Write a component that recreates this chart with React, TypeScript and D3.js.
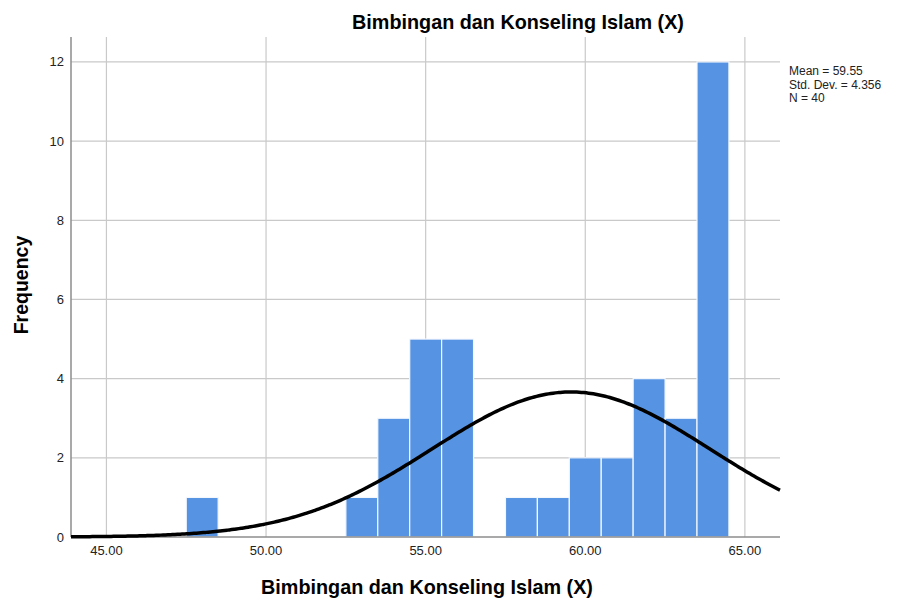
import { useEffect, useRef } from 'react';
import * as d3 from 'd3';

// Histogram bins (centre value, count), bin width 1
const binCenters = [48, 53, 54, 55, 56, 58, 59, 60, 61, 62, 63, 64];
const binCounts = [1, 1, 3, 5, 5, 1, 1, 2, 2, 4, 3, 12];
const xTicks = [45, 50, 55, 60, 65];
const yTicks = [0, 2, 4, 6, 8, 10, 12];
const statsLines = ['Mean = 59.55', 'Std. Dev. = 4.356', 'N = 40'];
const MEAN = 59.55;
const SD = 4.356;
const N = 40;

const W = 897;
const H = 605;

export default function App() {
  const svgRef = useRef<SVGSVGElement>(null);

  useEffect(() => {
    if (!svgRef.current) return;
    const svg = d3.select(svgRef.current);
    svg.selectAll('*').remove();

    const left = 71;
    const right = 780;
    const top = 37;
    const bottom = 537;
    const font = 'Liberation Sans, Arial, sans-serif';

    const x = d3.scaleLinear().domain([43.89, 66.1]).range([left, right]);
    const y = d3.scaleLinear().domain([0, 12.63]).range([bottom, top]);

    // grid
    svg.append('g')
      .selectAll('line')
      .data(yTicks.slice(1))
      .join('line')
      .attr('x1', left)
      .attr('x2', right)
      .attr('y1', (d) => y(d))
      .attr('y2', (d) => y(d))
      .attr('stroke', '#c9c9c9')
      .attr('stroke-width', 1.2);
    svg.append('g')
      .selectAll('line')
      .data(xTicks)
      .join('line')
      .attr('x1', (d) => x(d))
      .attr('x2', (d) => x(d))
      .attr('y1', top)
      .attr('y2', bottom)
      .attr('stroke', '#c9c9c9')
      .attr('stroke-width', 1.2);

    // bars
    svg.append('g')
      .selectAll('rect')
      .data(binCenters.map((c, i) => ({ c, n: binCounts[i] })))
      .join('rect')
      .attr('x', (d) => x(d.c - 0.5))
      .attr('width', (d) => x(d.c + 0.5) - x(d.c - 0.5))
      .attr('y', (d) => y(d.n))
      .attr('height', (d) => y(0) - y(d.n))
      .attr('fill', '#5694e3')
      .attr('stroke', '#f4f8fd')
      .attr('stroke-width', 1.2);

    // axes
    svg.append('line').attr('x1', left).attr('x2', left).attr('y1', top).attr('y2', bottom)
      .attr('stroke', '#8c8c8c').attr('stroke-width', 1.5);
    svg.append('line').attr('x1', left).attr('x2', right).attr('y1', bottom).attr('y2', bottom)
      .attr('stroke', '#8c8c8c').attr('stroke-width', 1.5);

    // normal curve
    const pts = d3.range(0, 301).map((i) => {
      const v = 43.89 + (i / 300) * (66.1 - 43.89);
      const dens = (N / (SD * Math.sqrt(2 * Math.PI))) * Math.exp(-0.5 * ((v - MEAN) / SD) ** 2);
      return [v, dens] as [number, number];
    });
    svg.append('path')
      .attr('d', d3.line<[number, number]>().x((d) => x(d[0])).y((d) => y(d[1])).curve(d3.curveBasis)(pts))
      .attr('fill', 'none')
      .attr('stroke', '#000')
      .attr('stroke-width', 3.5);

    // tick labels
    svg.append('g')
      .selectAll('text')
      .data(yTicks)
      .join('text')
      .attr('x', 64)
      .attr('y', (d) => y(d))
      .attr('dy', '0.35em')
      .attr('text-anchor', 'end')
      .style('font-family', font)
      .style('font-size', '13px')
      .attr('fill', '#222')
      .text((d) => String(d));
    svg.append('g')
      .selectAll('text')
      .data(xTicks)
      .join('text')
      .attr('x', (d) => x(d))
      .attr('y', 555)
      .attr('text-anchor', 'middle')
      .style('font-family', font)
      .style('font-size', '13px')
      .attr('fill', '#222')
      .text((d) => d.toFixed(2));

    // titles
    svg.append('text')
      .attr('x', 518)
      .attr('y', 29)
      .attr('text-anchor', 'middle')
      .style('font-family', font)
      .style('font-size', '19.8px')
      .style('font-weight', 'bold')
      .text('Bimbingan dan Konseling Islam (X)');
    svg.append('text')
      .attr('x', 427)
      .attr('y', 594)
      .attr('text-anchor', 'middle')
      .style('font-family', font)
      .style('font-size', '19.8px')
      .style('font-weight', 'bold')
      .text('Bimbingan dan Konseling Islam (X)');
    svg.append('text')
      .attr('transform', 'translate(28,285) rotate(-90)')
      .attr('text-anchor', 'middle')
      .style('font-family', font)
      .style('font-size', '19.5px')
      .style('font-weight', 'bold')
      .text('Frequency');

    // stats box
    svg.append('g')
      .selectAll('text')
      .data(statsLines)
      .join('text')
      .attr('x', 789)
      .attr('y', (_, i) => 75 + i * 13.5)
      .style('font-family', font)
      .style('font-size', '12px')
      .attr('fill', '#222')
      .text((d) => d);
  }, []);

  return (
    <svg
      ref={svgRef}
      width={W}
      height={H}
      style={{ position: 'absolute', left: 0, top: 0, background: '#fff' }}
    />
  );
}
